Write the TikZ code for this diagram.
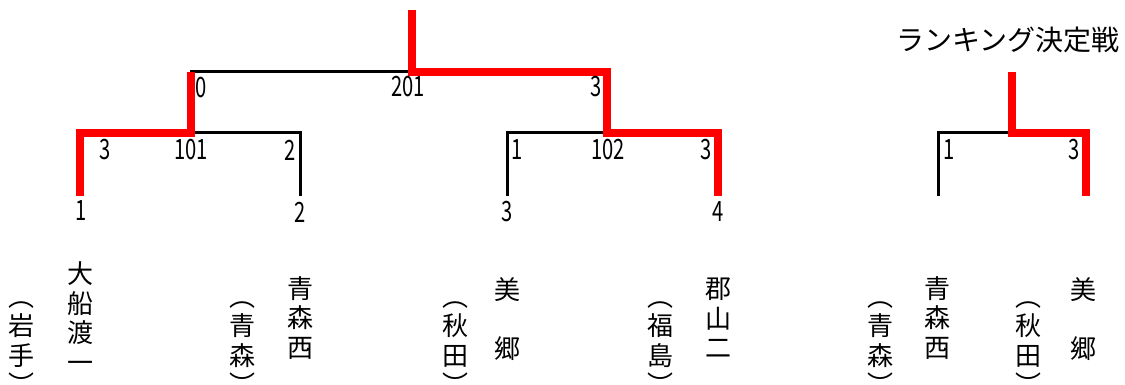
\documentclass[tikz,border=0pt]{standalone}
\usepackage{fontspec}
\setmainfont{Noto Sans CJK JP}
\newfontfamily\numfont[FakeStretch=0.72]{Noto Sans CJK JP}
\begin{document}
\begin{tikzpicture}[x=1pt,y=-1pt,
  loser/.style={line width=3pt},
  winner/.style={draw=red,line width=7.5pt},
  score/.style={inner sep=0pt,font=\numfont\fontsize{28}{28}\selectfont},
  team/.style={inner sep=0pt,align=center,font=\fontsize{26}{29.5}\selectfont}]
\useasboundingbox (0,0) rectangle (1125,385);
% bracket points
\coordinate (t1) at (80,196);
\coordinate (t2) at (300,196);
\coordinate (t3) at (507,196);
\coordinate (t4) at (718,196);
\coordinate (m101) at (191,133);
\coordinate (m102) at (607,133);
\coordinate (m201) at (412,72);
\coordinate (champ) at (412,10);
\coordinate (r1) at (938,196);
\coordinate (r2) at (1086,196);
\coordinate (rk) at (1012,133);
\coordinate (rktop) at (1012,72);
\draw[loser] (t1) |- (m101) -| (t2);
\draw[loser] (t3) |- (m102) -| (t4);
\draw[loser] (m101) |- (m201) -| (m102);
\draw[loser] (r1) |- (rk) -| (r2);
\draw[winner] (t1) |- (m101) -- (m101 |- m201);
\draw[winner] (t4) |- (m102) |- (m201) -- (champ);
\draw[winner] (r2) |- (rk) -- (rktop);
\node[font=\fontsize{28}{28}\selectfont,inner sep=0pt] (rtitle) at (1008,40) {ランキング決定戦};
% scores
\node[score] (sc201a) at (201,88) {0};
\node[score] (sc201) at (408,87) {201};
\node[score] (sc201b) at (596,87) {3};
\node[score] (sc101a) at (105,150) {3};
\node[score] (sc101) at (191,150) {101};
\node[score] (sc101b) at (290,150) {2};
\node[score] (sc102a) at (517,150) {1};
\node[score] (sc102) at (608,150) {102};
\node[score] (sc102b) at (706,150) {3};
\node[score] (scrka) at (949,150) {1};
\node[score] (scrkb) at (1074,150) {3};
\node[score] (no1) at (81,211) {1};
\node[score] (no2) at (300,212) {2};
\node[score] (no3) at (507,212) {3};
\node[score] (no4) at (718,212) {4};
% teams
\node[team] (n1) at (80,317) {大\\船\\渡\\一};
\node[team] (p1) at (22,348) {︵\\岩\\手\\︶};
\node[team] (n2) at (300,318) {青\\森\\西};
\node[team] (p2) at (242,348) {︵\\青\\森\\︶};
\node[team] (n3) at (507,319) {美\\　\\郷};
\node[team] (p3) at (455,348) {︵\\秋\\田\\︶};
\node[team] (n4) at (718,318) {郡\\山\\二};
\node[team] (p4) at (660,348) {︵\\福\\島\\︶};
\node[team] (n5) at (937,318) {青\\森\\西};
\node[team] (p5) at (880,348) {︵\\青\\森\\︶};
\node[team] (n6) at (1083,319) {美\\　\\郷};
\node[team] (p6) at (1028,348) {︵\\秋\\田\\︶};
\end{tikzpicture}
\end{document}
